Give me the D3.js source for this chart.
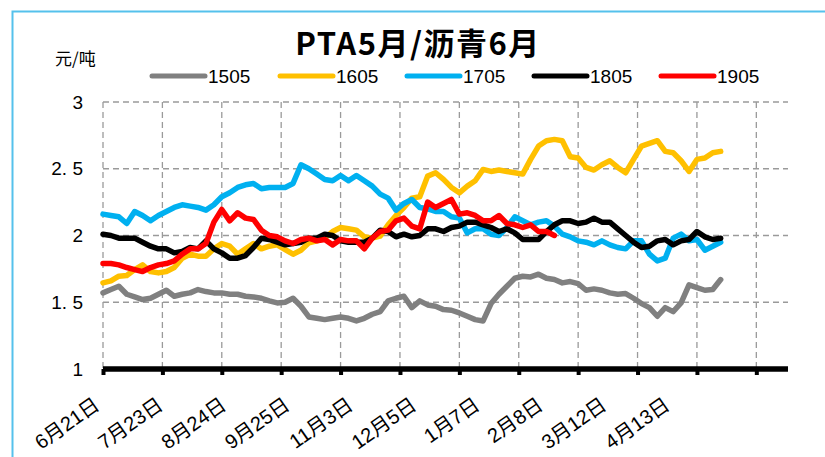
<!DOCTYPE html>
<html>
<head>
<meta charset="utf-8">
<script src="https://cdn.jsdelivr.net/npm/d3@7/dist/d3.min.js"></script>
<style>
  html, body { margin: 0; padding: 0; background: #fff; }
  svg { display: block; }
</style>
</head>
<body>
<svg id="chart" width="825" height="457"></svg>
<script>
// PTA May / bitumen June price ratio, one line per contract year.
// Values are sampled every 4 trading days from the first date on the axis.

const seriesNames = ["1505", "1605", "1705", "1805", "1905"];
const seriesColors = ["#808080", "#FFC000", "#00B0F0", "#000000", "#FF0000"];

const s1505 = [
  1.57, 1.595, 1.62, 1.56, 1.54, 1.52, 1.53, 1.56, 1.59, 1.545,
  1.56, 1.57, 1.595, 1.58, 1.57, 1.57, 1.56, 1.56, 1.545, 1.54,
  1.53, 1.51, 1.495, 1.50, 1.53, 1.47, 1.39, 1.38, 1.37, 1.38,
  1.39, 1.38, 1.36, 1.38, 1.41, 1.43, 1.51, 1.53, 1.545, 1.46,
  1.51, 1.48, 1.47, 1.445, 1.44, 1.42, 1.395, 1.37, 1.36, 1.49,
  1.56, 1.62, 1.68, 1.695, 1.69, 1.71, 1.68, 1.67, 1.645, 1.655,
  1.64, 1.59, 1.60, 1.59, 1.57, 1.56, 1.565, 1.53, 1.49, 1.46,
  1.395, 1.46, 1.43, 1.495, 1.63, 1.61, 1.59, 1.595, 1.67
];
const s1605 = [
  1.645, 1.66, 1.695, 1.70, 1.745, 1.78, 1.73, 1.72, 1.73, 1.76,
  1.83, 1.86, 1.845, 1.845, 1.90, 1.94, 1.92, 1.86, 1.90, 1.94,
  1.90, 1.92, 1.93, 1.895, 1.86, 1.89, 1.945, 1.96, 1.98, 2.03,
  2.06, 2.05, 2.04, 1.99, 1.98, 1.995, 2.08, 2.15, 2.21, 2.28,
  2.29, 2.445, 2.47, 2.42, 2.36, 2.32, 2.37, 2.41, 2.495, 2.48,
  2.49, 2.48, 2.47, 2.46, 2.57, 2.67, 2.71, 2.72, 2.71, 2.59,
  2.58, 2.51, 2.49, 2.53, 2.56, 2.51, 2.47, 2.57, 2.67, 2.69,
  2.71, 2.63, 2.62, 2.56, 2.48, 2.57, 2.58, 2.62, 2.63
];
const s1705 = [
  2.16, 2.15, 2.14, 2.09, 2.18, 2.15, 2.11, 2.15, 2.18, 2.21,
  2.23, 2.22, 2.21, 2.19, 2.23, 2.29, 2.32, 2.36, 2.38, 2.39,
  2.35, 2.36, 2.36, 2.36, 2.39, 2.53, 2.50, 2.46, 2.42, 2.41,
  2.45, 2.41, 2.45, 2.41, 2.37, 2.31, 2.28, 2.19, 2.24, 2.27,
  2.21, 2.20, 2.18, 2.18, 2.14, 2.13, 2.02, 2.05, 2.05, 2.01,
  2.00, 2.06, 2.14, 2.11, 2.08, 2.10, 2.11, 2.07, 2.01, 1.99,
  1.96, 1.95, 1.93, 1.96, 1.93, 1.91, 1.90, 1.96, 1.96, 1.86,
  1.81, 1.83, 1.98, 2.01, 1.96, 1.97, 1.89, 1.92, 1.95
];
const s1805 = [
  2.01, 2.00, 1.98, 1.98, 1.98, 1.95, 1.92, 1.90, 1.90, 1.87,
  1.88, 1.91, 1.90, 1.96, 1.90, 1.87, 1.83, 1.83, 1.85, 1.91,
  1.98, 1.97, 1.95, 1.93, 1.94, 1.95, 1.98, 1.98, 2.01, 2.00,
  1.96, 1.95, 1.95, 1.95, 1.98, 2.04, 2.03, 1.99, 2.01, 1.99,
  2.00, 2.05, 2.05, 2.03, 2.06, 2.07, 2.10, 2.10, 2.08, 2.06,
  2.03, 2.05, 2.02, 1.97, 1.97, 1.97, 2.03, 2.08, 2.11, 2.11,
  2.09, 2.10, 2.13, 2.10, 2.10, 2.05, 2.00, 1.95, 1.91, 1.92,
  1.96, 1.97, 1.93, 1.96, 1.97, 2.03, 1.99, 1.97, 1.98
];
const s1905 = [
  1.79, 1.79, 1.78, 1.76, 1.745, 1.73, 1.76, 1.78, 1.79, 1.81,
  1.86, 1.90, 1.90, 1.94, 2.10, 2.195, 2.11, 2.17, 2.13, 2.12,
  2.04, 2.00, 1.99, 1.96, 1.94, 1.97, 1.98, 1.96, 1.97, 1.93,
  1.97, 1.96, 1.96, 1.90, 1.98, 2.03, 2.04, 2.11, 2.13, 2.07,
  2.05, 2.25, 2.21, 2.24, 2.27, 2.16, 2.17, 2.15, 2.11, 2.11,
  2.15, 2.09, 2.08, 2.06, 2.08, 2.03, 2.03, 2.00
];
const seriesValues = [s1505, s1605, s1705, s1805, s1905];

// Category axis: trading days, gridlines every 30 days, date labels every 32 days.
const dayCount = 346;
const sampleStep = 4;
const gridEvery = 30;
const labelEvery = 32;
const dateLabels = ["6月21日", "7月23日", "8月24日", "9月25日", "11月3日",
                    "12月5日", "1月7日", "2月8日", "3月12日", "4月13日"];
const yTicks = [1, 1.5, 2, 2.5, 3];
const yTickLabels = ["1", "1. 5", "2", "2. 5", "3"];

const titleText = "PTA5月/沥青6月";
const unitText = "元/吨";

const svg = d3.select("#chart");
const plotLeft = 103, plotRight = 788, plotTop = 102, plotBottom = 369;

const x = d3.scaleLinear().domain([0, dayCount]).range([plotLeft, plotRight]);
const y = d3.scaleLinear().domain([1, 3]).range([plotBottom, plotTop]);

// outer frame
svg.append("rect")
  .attr("x", 12.5).attr("y", 11.5)
  .attr("width", 840).attr("height", 460)
  .attr("fill", "none").attr("stroke", "#55C1EC").attr("stroke-width", 2);

// title and unit
svg.append("text")
  .attr("x", 418).attr("y", 55)
  .attr("text-anchor", "middle")
  .attr("font-family", "'Noto Sans CJK SC', sans-serif")
  .attr("font-weight", "bold").attr("font-size", 31)
  .attr("letter-spacing", 1.5)
  .attr("fill", "#000")
  .text(titleText);

svg.append("text")
  .attr("x", 55).attr("y", 65)
  .attr("font-family", "'Noto Sans CJK SC', sans-serif")
  .attr("font-size", 17).attr("fill", "#000")
  .text(unitText);

// gridlines
const gridTicks = d3.range(0, dayCount, gridEvery);
const grid = svg.append("g")
  .attr("stroke", "#9a9a9a").attr("stroke-width", 1.3)
  .attr("stroke-dasharray", "6,4").attr("fill", "none");

grid.selectAll("line.v").data(gridTicks).join("line")
  .attr("class", "v")
  .attr("x1", d => x(d)).attr("x2", d => x(d))
  .attr("y1", y(3)).attr("y2", y(1));

grid.selectAll("line.h").data(yTicks.filter(v => v > 1)).join("line")
  .attr("class", "h")
  .attr("x1", x(0)).attr("x2", x(dayCount))
  .attr("y1", d => y(d)).attr("y2", d => y(d));

// y axis labels
const yAxis = d3.axisLeft(y).tickValues(yTicks)
  .tickFormat((d, i) => yTickLabels[i]).tickSize(0).tickPadding(20);
const yg = svg.append("g").attr("transform", `translate(${plotLeft},0)`).call(yAxis);
yg.select(".domain").remove();
yg.selectAll("text")
  .attr("font-family", "'Liberation Sans', Arial, sans-serif")
  .attr("font-size", 19).attr("fill", "#000");

// series lines
const line = d3.line()
  .x((d, i) => x(i * sampleStep))
  .y(d => y(d))
  .curve(d3.curveLinear);

svg.append("g").selectAll("path").data(seriesValues).join("path")
  .attr("d", d => line(d))
  .attr("fill", "none")
  .attr("stroke", (d, i) => seriesColors[i])
  .attr("stroke-width", 5.5)
  .attr("stroke-linejoin", "round")
  .attr("stroke-linecap", "round");

// x axis: thick baseline with square tick marks
const xAxis = d3.axisBottom(x).tickValues(gridTicks).tickFormat("").tickSize(6).tickSizeOuter(0);
const xg = svg.append("g").attr("transform", `translate(0,${plotBottom})`).call(xAxis);
xg.select(".domain").attr("stroke", "#000").attr("stroke-width", 5.5)
  .attr("d", `M${plotLeft},0H${plotRight}`);
xg.selectAll(".tick line").attr("stroke", "#000").attr("stroke-width", 4);

// rotated date labels
svg.append("g").selectAll("text").data(dateLabels).join("text")
  .attr("transform", (d, i) => `translate(${x(i * labelEvery) - 2},${plotBottom + 39}) rotate(-35)`)
  .attr("text-anchor", "end")
  .attr("font-family", "'Liberation Sans', 'Noto Sans CJK SC', sans-serif")
  .attr("font-size", 20).attr("fill", "#000")
  .text(d => d);

// legend
const legendX = [152, 280, 407, 534, 661];
const legend = svg.append("g").selectAll("g").data(seriesNames).join("g")
  .attr("transform", (d, i) => `translate(${legendX[i]},76)`);
legend.append("line")
  .attr("x1", 0).attr("x2", 53).attr("y1", 0).attr("y2", 0)
  .attr("stroke", (d, i) => seriesColors[i]).attr("stroke-width", 5)
  .attr("stroke-linecap", "round");
legend.append("text")
  .attr("x", 56).attr("y", 7)
  .attr("font-family", "'Liberation Sans', Arial, sans-serif")
  .attr("font-size", 19).attr("fill", "#000")
  .text(d => d);
</script>
</body>
</html>
